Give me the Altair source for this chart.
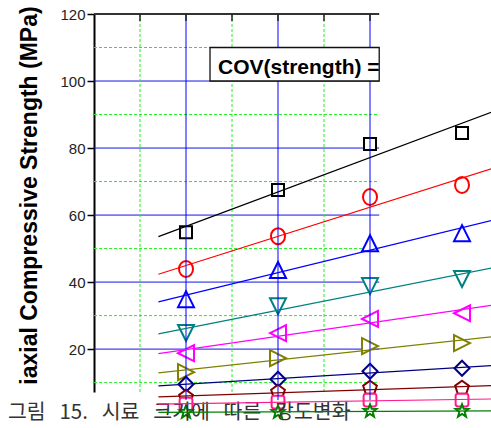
import math
import altair as alt
import pandas as pd

# ---------------- data ----------------
sizes = [1, 2, 3, 4]
series_names = ["s1", "s2", "s3", "s4", "s5", "s6", "s7", "s8", "s9", "s10"]
s1 = [54.9, 67.5, 81.2, 84.5]
s2 = [43.9, 53.7, 65.4, 69.0]
s3 = [34.9, 43.6, 51.6, 54.6]
s4 = [24.8, 32.8, 38.8, 40.9]
s5 = [18.8, 24.8, 29.0, 30.7]
s6 = [13.1, 17.3, 20.9, 21.8]
s7 = [9.5, 11.0, 13.4, 14.3]
s8 = [5.7, 7.2, 8.4, 8.4]
s9 = [3.6, 4.2, 4.8, 4.8]
s10 = [1.2, 1.2, 1.5, 1.5]
all_series = [s1, s2, s3, s4, s5, s6, s7, s8, s9, s10]

y_tick_values = [20, 40, 60, 80, 100, 120]
major_h = [20, 40, 60, 80, 100]
minor_h = [10, 30, 50, 70, 90, 110]
major_v = [1, 2, 3]
minor_v = [0.5, 1.5, 2.5]
top_ticks = [0.5, 1, 1.5, 2, 2.5, 3]

y_title = "iaxial Compressive Strength (MPa)"
box_label = "COV(strength) ="
GAP = "\u00a0\u00a0\u00a0"
caption = GAP.join(["그림", "15.", "시료", "크기에", "따른", "강도변화"])

# ---------------- styles ----------------
colors = ["#000000", "#FF0000", "#0000FF", "#008080", "#FF00FF",
          "#808000", "#000080", "#800000", "#FF1A8C", "#008000"]


def star(R=0.85, r=0.36):
    pts = []
    for k in range(10):
        a = math.radians(-90 + 36 * k)
        rad = R if k % 2 == 0 else r
        pts.append(f"{rad*math.cos(a):.3f},{rad*math.sin(a):.3f}")
    return "M" + "L".join(pts) + "Z"


def pentagon(R=0.9):
    pts = []
    for k in range(5):
        a = math.radians(-90 + 72 * k)
        pts.append(f"{R*math.cos(a):.3f},{R*math.sin(a):.3f}")
    return "M" + "L".join(pts) + "Z"


shapes = [
    "M-0.75,-0.75L0.75,-0.75L0.75,0.75L-0.75,0.75Z",
    "M0,-1A0.875,1 0 1,1 0,1A0.875,1 0 1,1 0,-1Z",
    "M0,-1L1,1L-1,1Z",
    "M0,1L-1,-1L1,-1Z",
    "M-1,0L1,-1L1,1Z",
    "M1,0L-1,-1L-1,1Z",
    "M0,-0.94L0.94,0L0,0.94L-0.94,0Z",
    pentagon(),
    "M-0.5,-0.8L0.5,-0.8Q0.8,-0.8 0.8,-0.5L0.8,0.5Q0.8,0.8 0.5,0.8L-0.5,0.8Q-0.8,0.8 -0.8,0.5L-0.8,-0.5Q-0.8,-0.8 -0.5,-0.8Z",
    star(),
]

rows = []
for name, vals in zip(series_names, all_series):
    for xv, yv in zip(sizes, vals):
        rows.append({"x": xv, "v": yv, "series": name})
pts = pd.DataFrame(rows)

X_DOM = [0, 4.315]
Y_DOM = [7.2, 120]
GRID_END = 3.1

xs = alt.Scale(domain=X_DOM, nice=False, zero=False)
ys = alt.Scale(domain=Y_DOM, nice=False, zero=False)

y_axis = alt.Axis(
    values=y_tick_values, grid=False, tickSize=7, tickWidth=1.5,
    tickColor="black", domainColor="black", domainWidth=2,
    labelFont="Liberation Sans", labelFontSize=15, labelColor="#222",
    labelPadding=2, labelFlush=False, labelOverlap=False,
    title=y_title, titleFont="Liberation Sans", titleFontSize=23,
    titleFontWeight="bold", titleColor="black", titleX=-65, titleY=181,
    titleAngle=270, titleAlign="center", titleBaseline="middle",
)


def X(field):
    return alt.X(field, type="quantitative", scale=xs, axis=None)


def Y(field):
    return alt.Y(field, type="quantitative", scale=ys, axis=y_axis)


col = alt.Color("series:N", scale=alt.Scale(domain=series_names, range=colors), legend=None)
shp = alt.Shape("series:N", scale=alt.Scale(domain=series_names, range=shapes), legend=None)

hmaj = pd.DataFrame({"v": major_h, "xa": 0, "xb": GRID_END})
hmin = pd.DataFrame({"v": minor_h, "xa": 0, "xb": GRID_END})
vmaj = pd.DataFrame({"x": major_v, "ya": 120, "yb": 4.8})
vmin = pd.DataFrame({"x": minor_v, "ya": 120, "yb": 7.2})
topline = pd.DataFrame({"v": [120], "xa": [0], "xb": [GRID_END]})
tticks = pd.DataFrame({"x": top_ticks})
box = pd.DataFrame({"xa": [1.261], "xb": [GRID_END], "ya": [100], "yb": [110]})
boxtxt = pd.DataFrame({"x": [1.348], "v": [102.1], "label": [box_label]})
captxt = pd.DataFrame({"label": [caption]})

l_hmaj = alt.Chart(hmaj).mark_rule(color="#1414E6", strokeWidth=1, clip=False).encode(
    y=Y("v"), x=X("xa"), x2="xb")
l_hmin = alt.Chart(hmin).mark_rule(color="#22EE22", strokeWidth=1, strokeDash=[3, 2], clip=False).encode(
    y=Y("v"), x=X("xa"), x2="xb")
l_pts = alt.Chart(pts).mark_point(size=256, strokeWidth=2, fill="white", fillOpacity=1,
                                  opacity=1, clip=False).encode(
    x=X("x"), y=Y("v"), color=col, shape=shp)
l_vmaj = alt.Chart(vmaj).mark_rule(color="#0000FF", strokeWidth=1, clip=False).encode(
    x=X("x"), y=Y("ya"), y2="yb")
l_vmin = alt.Chart(vmin).mark_rule(color="#22EE22", strokeWidth=1, strokeDash=[3, 2], clip=False).encode(
    x=X("x"), y=Y("ya"), y2="yb")
l_box = alt.Chart(box).mark_rect(fill="white", stroke="#111", strokeWidth=1.3, clip=False).encode(
    x=X("xa"), x2="xb", y=Y("ya"), y2="yb")
l_txt = alt.Chart(boxtxt).mark_text(align="left", baseline="alphabetic",
                                    font="Liberation Sans", fontSize=21,
                                    fontWeight="bold", color="black", clip=False).encode(
    x=X("x"), y=Y("v"), text="label:N")
l_top = alt.Chart(topline).mark_rule(color="#333", strokeWidth=2, clip=False).encode(
    y=Y("v"), x=X("xa"), x2="xb")
l_tt = alt.Chart(tticks).mark_rule(color="#222", strokeWidth=1.5, clip=False).encode(
    x=X("x"), y=alt.value(0), y2=alt.value(7))
l_cap = alt.Chart(captxt).mark_text(align="left", baseline="alphabetic",
                                    font="Noto Sans CJK KR", fontSize=20.5,
                                    fontWeight="normal", color="#333", clip=False).encode(
    x=alt.value(-86), y=alt.value(405), text="label:N")
l_fit = alt.Chart(pts).transform_regression(
    "x", "v", groupby=["series"], extent=[0.7, 4.4], method="linear"
).mark_line(strokeWidth=1.2, clip=False).encode(
    x=X("x"), y=Y("v"), color=col, detail="series:N")

chart = alt.layer(
    l_hmaj, l_hmin, l_pts, l_vmaj, l_vmin, l_box, l_txt, l_top, l_tt, l_cap, l_fit
).properties(
    width=397, height=378,
    autosize=alt.AutoSizeParams(type="none"),
    padding={"left": 94, "top": 14, "right": 0, "bottom": 36},
    background="white",
).configure_view(stroke=None)

chart.save("out.html", embed_options={"renderer": "svg", "actions": False})
